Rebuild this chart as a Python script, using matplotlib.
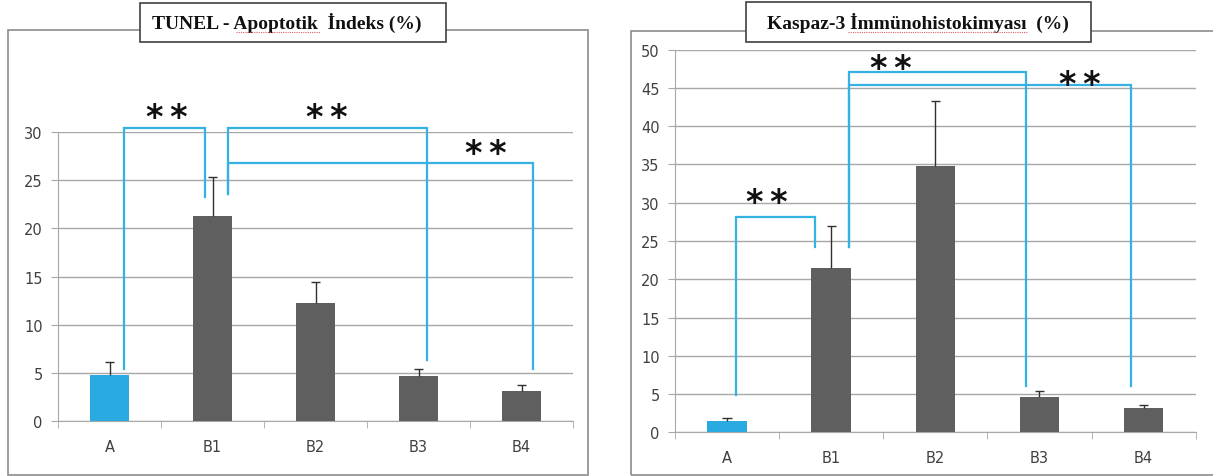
import matplotlib
matplotlib.use('Agg')
import matplotlib.pyplot as plt
from matplotlib.patches import Rectangle
import numpy as np

W, H = 1213, 477

groups = ['A', 'B1', 'B2', 'B3', 'B4']

# TUNEL apoptotic index (%), mean and upper error
tunel_mean = [4.8, 21.3, 12.3, 4.7, 3.1]
tunel_err = [1.35, 4.0, 2.1, 0.7, 0.65]

# Caspase-3 immunohistochemistry (%), mean and upper error
kaspaz_mean = [1.45, 21.5, 34.8, 4.65, 3.2]
kaspaz_err = [0.42, 5.5, 8.5, 0.8, 0.4]

# significance brackets: (x_left, x_right, y_top, y_left_end, y_right_end, star_x, star_y)
tunel_brackets = [
    (0.14, 0.93, 30.4, 5.4, 23.3, 0.56, 31.9),
    (1.15, 3.08, 30.45, 23.6, 6.3, 2.11, 31.9),
    (1.15, 4.11, 26.75, 23.6, 5.4, 3.65, 28.2),
]
kaspaz_brackets = [
    (0.084, 0.84, 28.2, 4.9, 24.2, 0.38, 31.2),
    (1.17, 2.875, 47.1, 24.2, 6.1, 1.57, 48.6),
    (1.17, 3.88, 45.4, 24.2, 6.1, 3.39, 46.6),
]

BLUE = '#29abe2'
BRACKET = '#33b2e3'
DARK = '#5f5f5f'
GRID = '#a8a8a8'
TEXT = '#404040'


def frac(x0, y0, x1, y1):
    # pixel box (top-left origin) -> figure fraction [left, bottom, width, height]
    return [x0 / W, 1 - y1 / H, (x1 - x0) / W, (y1 - y0) / H]


fig = plt.figure(figsize=(W / 100, H / 100), dpi=100)
fig.patch.set_facecolor('white')

# outer chart frames
for box in [(8, 31, 588, 476), (631, 32, 1216, 476)]:
    l, b, w, h = frac(*box)
    fig.add_artist(Rectangle((l, b), w, h, transform=fig.transFigure,
                             facecolor='none', edgecolor='#8c8c8c', lw=1.2))


def draw_panel(rect, mean, err, ymax, brackets):
    ax = fig.add_axes(frac(*rect))
    x = np.arange(len(groups))
    colors = [BLUE] + [DARK] * (len(groups) - 1)
    ax.bar(x, mean, width=0.38, color=colors, zorder=3)
    top = np.array(mean) + np.array(err)
    ax.vlines(x, mean, top, color='#303030', lw=1, zorder=4)
    ax.hlines(top, x - 0.045, x + 0.045, color='#303030', lw=1, zorder=4)

    ax.set_xlim(-0.5, len(groups) - 0.5)
    ax.set_ylim(0, ymax)
    ax.set_yticks(np.arange(0, ymax + 1, 5))
    ax.set_xticks(x)
    ax.set_xticklabels(groups)
    ax.set_xticks(np.arange(-0.5, len(groups)), minor=True)
    ax.tick_params(axis='x', which='major', length=0, pad=13, labelsize=10.5, labelcolor=TEXT)
    ax.tick_params(axis='x', which='minor', length=5, color=GRID, direction='out')
    ax.tick_params(axis='y', length=5, color=GRID, pad=6, labelsize=10.5, labelcolor=TEXT)
    ax.grid(axis='y', color=GRID, lw=1, zorder=0)
    for s in ['top', 'right']:
        ax.spines[s].set_visible(False)
    for s in ['left', 'bottom']:
        ax.spines[s].set_color(GRID)
    ax.set_facecolor('none')

    # stars are placed from their ink centre, so shift the text baseline down
    star_dy = ymax * 0.047
    for x0, x1, yt, yl, yr, sx, sy in brackets:
        ax.plot([x0, x0, x1, x1], [yl, yt, yt, yr], color=BRACKET, lw=1.6,
                clip_on=False, zorder=5, solid_joinstyle='miter')
        ax.text(sx, sy - star_dy, '*\u2009*', ha='center', va='baseline', fontsize=24,
                fontweight='bold', color='#111111', clip_on=False, zorder=6)
    return ax


draw_panel((58, 133, 573, 422), tunel_mean, tunel_err, 30, tunel_brackets)
draw_panel((675, 50.7, 1195.7, 433.3), kaspaz_mean, kaspaz_err, 50, kaspaz_brackets)

# title boxes
for box, label, cx in [((140, 4, 446, 43), 'TUNEL - Apoptotik  İndeks (%)', 287),
                       ((746, 3, 1091, 43), 'Kaspaz-3 İmmünohistokimyası  (%)', 918)]:
    l, b, w, h = frac(*box)
    fig.add_artist(Rectangle((l, b), w, h, transform=fig.transFigure,
                             facecolor='white', edgecolor='#404040', lw=1.2, zorder=10))
    fig.text(cx / W, 1 - 23 / H, label, ha='center', va='center', fontsize=14,
             fontweight='bold', family='Liberation Serif', color='#111111', zorder=11)

# spell-check underlines in the titles
for x0, x1, y in [(236, 320, 33), (848, 1028, 33)]:
    fig.add_artist(plt.Line2D([x0 / W, x1 / W], [1 - y / H, 1 - y / H],
                              transform=fig.transFigure, color='#e06060',
                              lw=0.8, ls=(0, (1, 1)), zorder=12))

fig.savefig('out.png', dpi=100, facecolor='white')
